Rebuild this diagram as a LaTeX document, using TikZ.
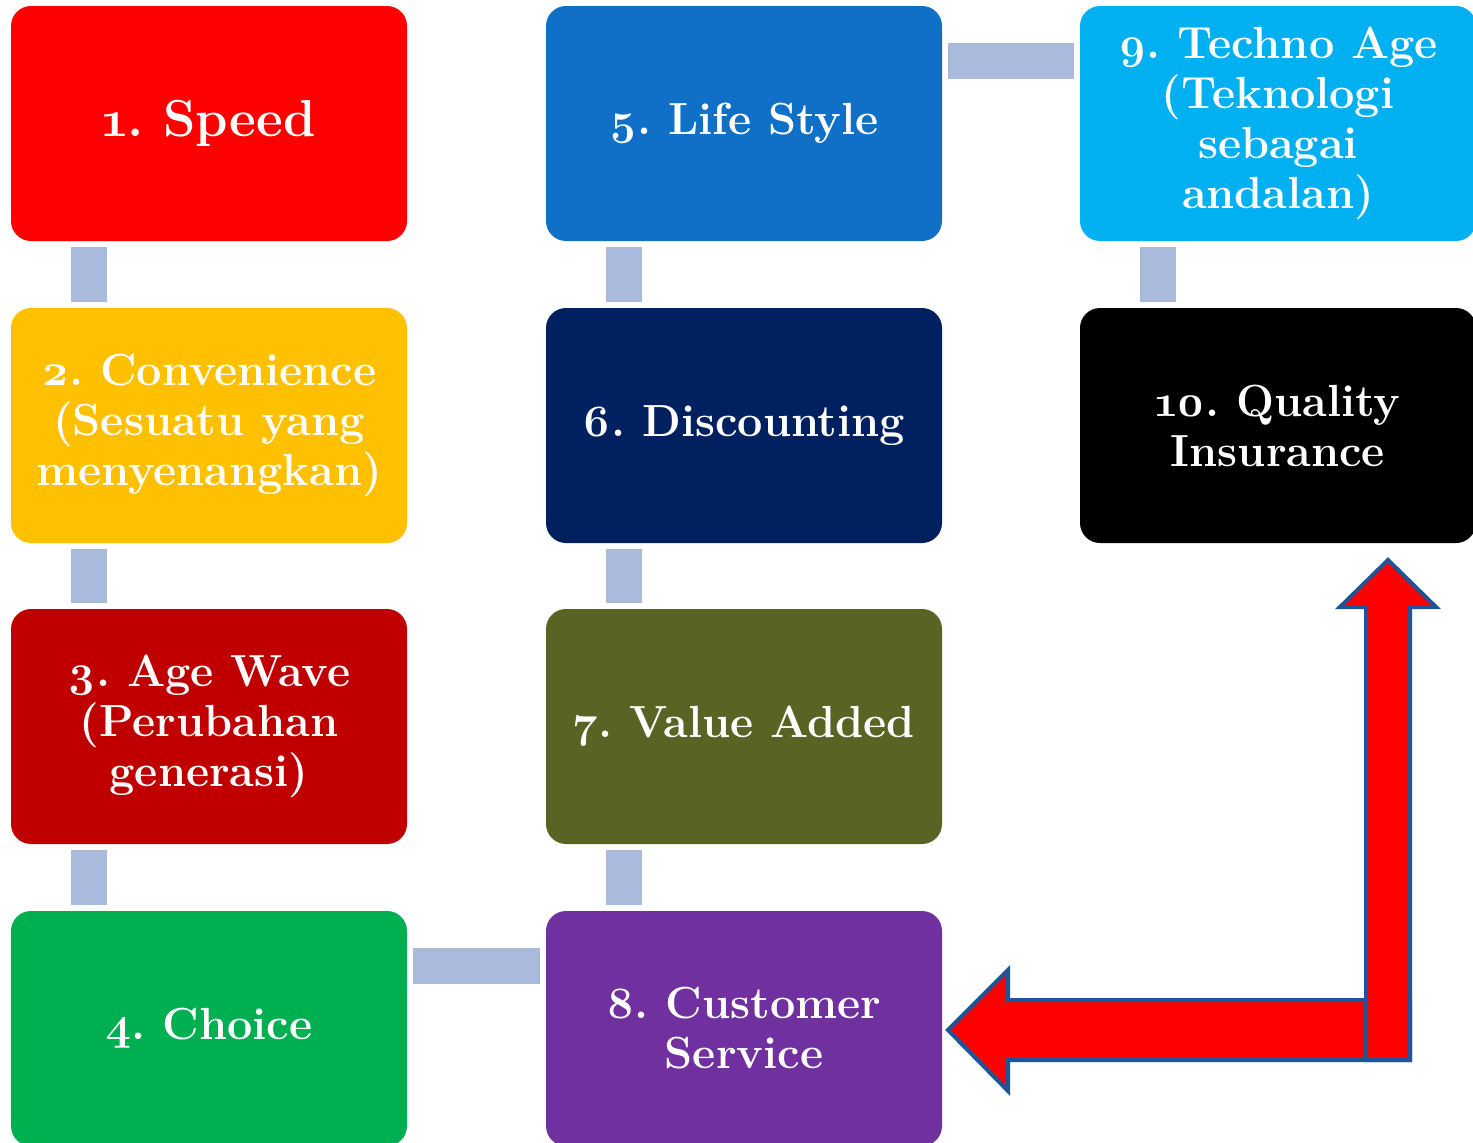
\documentclass[tikz,border=0pt]{standalone}
\usepackage{fontspec}
\setmainfont{Latin Modern Roman}[Numbers=OldStyle]
\usetikzlibrary{calc}
\definecolor{cRed}{HTML}{FF0000}
\definecolor{cYel}{HTML}{FFC000}
\definecolor{cDRed}{HTML}{C00000}
\definecolor{cGreen}{HTML}{00B050}
\definecolor{cBlue}{HTML}{1070C8}
\definecolor{cNavy}{HTML}{002060}
\definecolor{cOlive}{HTML}{586424}
\definecolor{cPurple}{HTML}{7030A0}
\definecolor{cSky}{HTML}{00B0F0}
\definecolor{cConn}{HTML}{AABADD}
\definecolor{cEdge}{HTML}{1F5596}
\tikzset{
  box/.style={rectangle, rounded corners=20pt, minimum width=396pt, minimum height=235pt,
    inner sep=0pt, text=white, align=center, font=\frenchspacing\fontsize{45}{50}\selectfont\bfseries},
  conn/.style={draw=cConn, line width=36pt, shorten <=6pt, shorten >=6pt},
  bigarrow/.style={fill=cRed, draw=cEdge, line width=4pt, line join=miter},
}
\begin{document}
\begin{tikzpicture}[x=1pt,y=-1pt]
\useasboundingbox (0,0) rectangle (1473,1143);
\clip (0,0) rectangle (1473,1143);
\fill[white] (0,0) rectangle (1473,1143);
% boxes
\node[box, fill=cRed, font=\frenchspacing\fontsize{52}{56}\selectfont\bfseries] (n1) at (209,123.5) {1. Speed};
\node[box, fill=cYel] (n2) at (209,425.5) {2. Convenience\\(Sesuatu yang\\menyenangkan)};
\node[box, fill=cDRed] (n3) at (209,726.5) {3. Age Wave\\(Perubahan\\generasi)};
\node[box, fill=cGreen] (n4) at (209,1028.5) {4. Choice};
\node[box, fill=cBlue] (n5) at (744,123.5) {5. Life Style};
\node[box, fill=cNavy] (n6) at (744,425.5) {6. Discounting};
\node[box, fill=cOlive] (n7) at (744,726.5) {7. Value Added};
\node[box, fill=cPurple] (n8) at (744,1028.5) {8. Customer\\Service};
\node[box, fill=cSky] (n9) at (1278,123.5) {9. Techno Age\\(Teknologi\\sebagai\\andalan)};
\node[box, fill=black] (n10) at (1278,425.5) {10. Quality\\Insurance};
% connectors
\draw[conn] ([xshift=78pt]n1.south west) -- ([xshift=78pt]n2.north west);
\draw[conn] ([xshift=78pt]n2.south west) -- ([xshift=78pt]n3.north west);
\draw[conn] ([xshift=78pt]n3.south west) -- ([xshift=78pt]n4.north west);
\draw[conn] ([yshift=-55pt]n4.north east) -- ([yshift=-55pt]n8.north west);
\draw[conn] ([xshift=78pt]n8.north west) -- ([xshift=78pt]n7.south west);
\draw[conn] ([xshift=78pt]n7.north west) -- ([xshift=78pt]n6.south west);
\draw[conn] ([xshift=78pt]n6.north west) -- ([xshift=78pt]n5.south west);
\draw[conn] ([yshift=-55pt]n5.north east) -- ([yshift=-55pt]n9.north west);
\draw[conn] ([xshift=78pt]n9.south west) -- ([xshift=78pt]n10.north west);
% big bent arrow
\coordinate (htip) at (948,1030);
\coordinate (vtip) at (1388,560);
\draw[bigarrow] (htip) -- (1008,970) -- (1008,1000) -- (1410,1000) -- (1410,1060)
  -- (1008,1060) -- (1008,1091) -- cycle;
\draw[bigarrow] (vtip) -- (1436,607) -- (1410,607) -- (1410,1060) -- (1366,1060)
  -- (1366,607) -- (1340,607) -- cycle;
\end{tikzpicture}
\end{document}
